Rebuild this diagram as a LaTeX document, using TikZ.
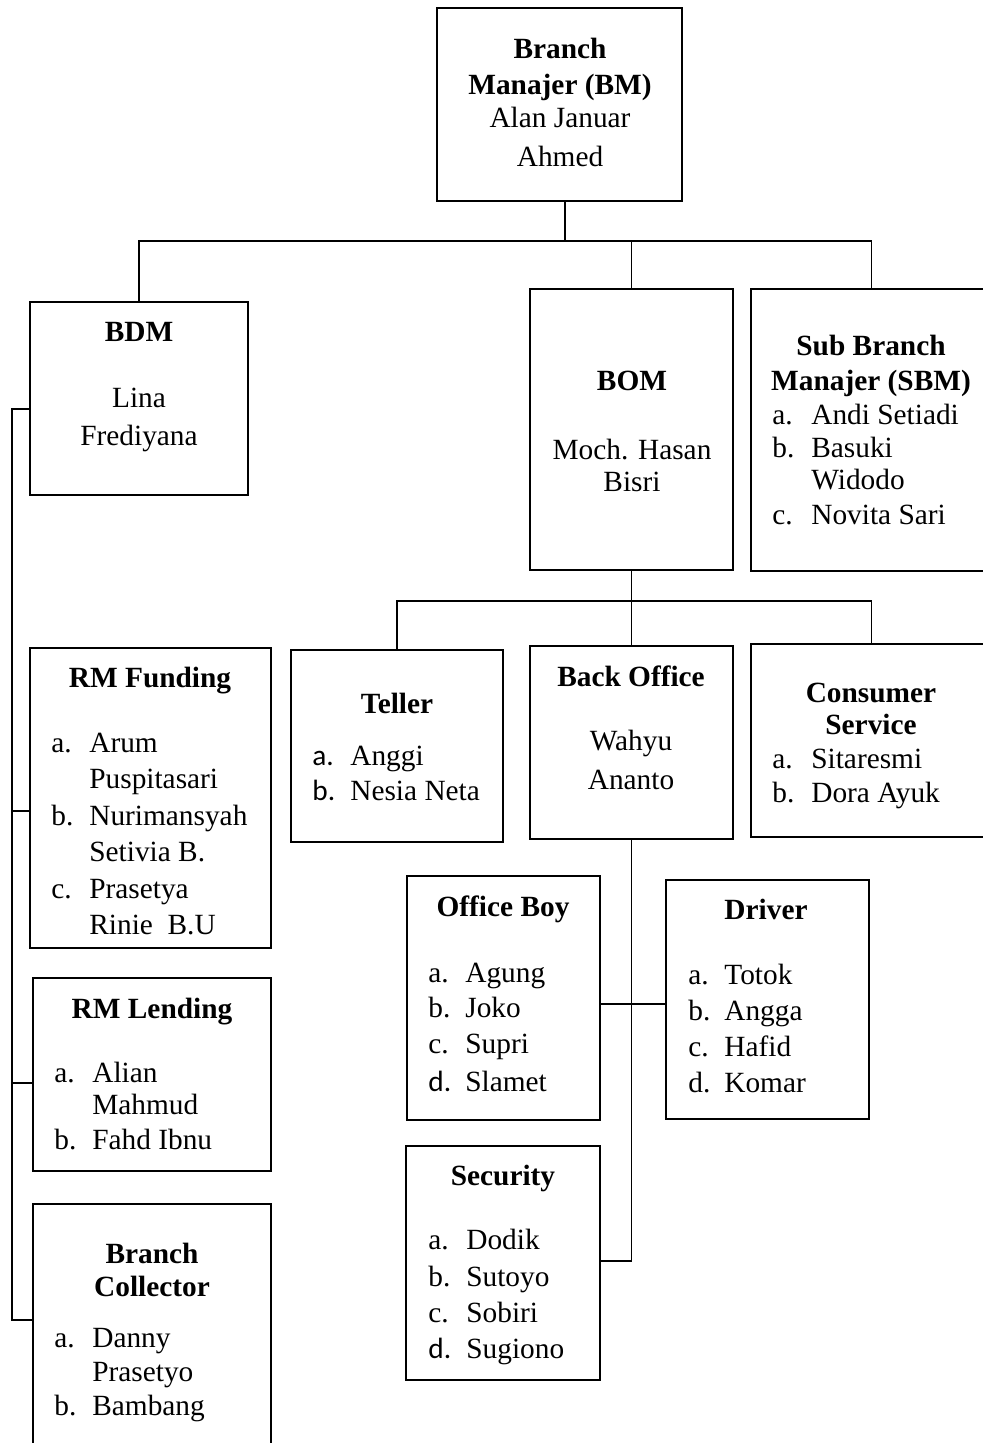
\documentclass[tikz,border=0pt]{standalone}
\usepackage{fontspec}
\setmainfont{Liberation Serif}
\newfontfamily\mkfont{Carlito}
\usepackage{tikz}

\tikzset{
  unitbox/.style={draw, line width=1.4pt, inner sep=0pt, outer sep=0pt},
  linkline/.style={line width=0.6pt},
  headtext/.style={inner sep=0pt, anchor=base, font=\fontsize{16.7}{20}\selectfont\bfseries},
  nametext/.style={inner sep=0pt, anchor=base, font=\fontsize{16.7}{20}\selectfont},
  itemtext/.style={inner sep=0pt, anchor=base west, font=\fontsize{16.7}{20}\selectfont}
}

\begin{document}
\begin{tikzpicture}[x=0.02cm, y=-0.02cm]
\useasboundingbox (0,0) rectangle (983,1443);

% boxes
\node[unitbox, minimum width=4.9cm, minimum height=3.86cm] (bm) at (559.5,104.5) {};
\node[unitbox, minimum width=4.36cm, minimum height=3.86cm] (bdm) at (139,398.5) {};
\node[unitbox, minimum width=4.06cm, minimum height=5.62cm] (bom) at (631.5,429.5) {};
\node[unitbox, minimum width=4.82cm, minimum height=5.64cm] (sbm) at (871.5,430) {};
\node[unitbox, minimum width=4.24cm, minimum height=3.84cm] (teller) at (397,746) {};
\node[unitbox, minimum width=4.06cm, minimum height=3.86cm] (bo) at (631.5,742.5) {};
\node[unitbox, minimum width=4.82cm, minimum height=3.86cm] (cs) at (871.5,740.5) {};
\node[unitbox, minimum width=4.82cm, minimum height=6cm] (rmf) at (150.5,798) {};
\node[unitbox, minimum width=4.76cm, minimum height=3.86cm] (rml) at (152,1074.5) {};
\node[unitbox, minimum width=4.76cm, minimum height=5.42cm] (bc) at (152,1339.5) {};
\node[unitbox, minimum width=3.86cm, minimum height=4.88cm] (ob) at (503.5,998) {};
\node[unitbox, minimum width=4.06cm, minimum height=4.78cm] (driver) at (767.5,999.5) {};
\node[unitbox, minimum width=3.88cm, minimum height=4.68cm] (sec) at (503,1263) {};

% connectors
\coordinate (busa) at (565,241);
\coordinate (busb) at (633,601);
\coordinate (spine) at (12,409);
\draw[linkline] (bm.south -| busa) -- (busa);
\draw[linkline] (bdm.north) |- (sbm.north |- busa) -- (sbm.north);
\draw[linkline] (bom.north) -- (bom.north |- busa);
\draw[linkline] (bom.south) -- (bo.north);
\draw[linkline] (teller.north) |- (cs.north |- busb) -- (cs.north);
\draw[linkline] (bdm.west |- spine) -- (spine) |- (bc.west |- 0,1320);
\draw[linkline] (spine |- 0,811) -- (rmf.west |- 0,811);
\draw[linkline] (spine |- 0,1083) -- (rml.west |- 0,1083);
\draw[linkline] (bo.south) |- (sec.east |- 0,1261);
\draw[linkline] (ob.east |- 0,1004) -- (driver.west |- 0,1004);

% Branch Manajer
\node[headtext] (bm-t1) at (560,59) {Branch};
\node[headtext] (bm-t2) at (560,94) {Manajer (BM)};
\node[nametext] (bm-n1) at (560,128) {Alan Januar};
\node[nametext] (bm-n2) at (560,166) {Ahmed};

% BDM
\node[headtext] (bdm-t1) at (139,341) {BDM};
\node[nametext] (bdm-n1) at (139,407) {Lina};
\node[nametext] (bdm-n2) at (139,445) {Frediyana};

% BOM
\node[headtext] (bom-t1) at (632,390) {BOM};
\node[nametext] (bom-n1) at (632,459) {Moch. Hasan};
\node[nametext] (bom-n2) at (632,491) {Bisri};

% Sub Branch Manajer
\node[headtext] (sbm-t1) at (871,355) {Sub Branch};
\node[headtext] (sbm-t2) at (871,390) {Manajer (SBM)};
\foreach \yy/\mk/\nm [count=\i] in {424/a./Andi Setiadi, 457/b./Basuki, 489//Widodo, 524/c./Novita Sari}{
  \node[itemtext] (sbm-m\i) at (772,\yy) {\mk};
  \node[itemtext] (sbm-n\i) at (811,\yy) {\nm};
}

% RM Funding
\node[headtext] (rmf-t1) at (150,687) {RM Funding};
\foreach \yy/\mk/\nm [count=\i] in {752/a./Arum, 788//Puspitasari, 825/b./Nurimansyah, 861//Setivia B., 898/c./Prasetya, 934//Rinie\ \ B.U}{
  \node[itemtext] (rmf-m\i) at (51,\yy) {\mk};
  \node[itemtext] (rmf-n\i) at (89,\yy) {\nm};
}

% Teller
\node[headtext] (teller-t1) at (397,713) {Teller};
\foreach \yy/\mk/\nm [count=\i] in {765/{\mkfont a.}/Anggi, 800/{\mkfont b.}/Nesia Neta}{
  \node[itemtext] (teller-m\i) at (312,\yy) {\mk};
  \node[itemtext] (teller-n\i) at (350,\yy) {\nm};
}

% Back Office
\node[headtext] (bo-t1) at (631,686) {Back Office};
\node[nametext] (bo-n1) at (631,750) {Wahyu};
\node[nametext] (bo-n2) at (631,789) {Ananto};

% Consumer Service
\node[headtext] (cs-t1) at (871,702) {Consumer};
\node[headtext] (cs-t2) at (871,734) {Service};
\foreach \yy/\mk/\nm [count=\i] in {768/a./Sitaresmi, 802/b./Dora Ayuk}{
  \node[itemtext] (cs-m\i) at (772,\yy) {\mk};
  \node[itemtext] (cs-n\i) at (811,\yy) {\nm};
}

% Office Boy
\node[headtext] (ob-t1) at (503,916) {Office Boy};
\foreach \yy/\mk/\nm [count=\i] in {982/a./Agung, 1017/b./Joko, 1053/c./Supri, 1091/{\mkfont d.}/Slamet}{
  \node[itemtext] (ob-m\i) at (428,\yy) {\mk};
  \node[itemtext] (ob-n\i) at (465,\yy) {\nm};
}

% Driver
\node[headtext] (driver-t1) at (766,919) {Driver};
\foreach \yy/\mk/\nm [count=\i] in {984/a./Totok, 1020/b./Angga, 1056/c./Hafid, 1092/d./Komar}{
  \node[itemtext] (driver-m\i) at (688,\yy) {\mk};
  \node[itemtext] (driver-n\i) at (724,\yy) {\nm};
}

% RM Lending
\node[headtext] (rml-t1) at (152,1018) {RM Lending};
\foreach \yy/\mk/\nm [count=\i] in {1082/a./Alian, 1114//Mahmud, 1149/b./Fahd Ibnu}{
  \node[itemtext] (rml-m\i) at (54,\yy) {\mk};
  \node[itemtext] (rml-n\i) at (92,\yy) {\nm};
}

% Branch Collector
\node[headtext] (bc-t1) at (152,1263) {Branch};
\node[headtext] (bc-t2) at (152,1296) {Collector};
\foreach \yy/\mk/\nm [count=\i] in {1347/a./Danny, 1381//Prasetyo, 1415/b./Bambang}{
  \node[itemtext] (bc-m\i) at (54,\yy) {\mk};
  \node[itemtext] (bc-n\i) at (92,\yy) {\nm};
}

% Security
\node[headtext] (sec-t1) at (503,1185) {Security};
\foreach \yy/\mk/\nm [count=\i] in {1249/a./Dodik, 1286/b./Sutoyo, 1322/c./Sobiri, 1358/{\mkfont d.}/Sugiono}{
  \node[itemtext] (sec-m\i) at (428,\yy) {\mk};
  \node[itemtext] (sec-n\i) at (466,\yy) {\nm};
}

\end{tikzpicture}
\end{document}
